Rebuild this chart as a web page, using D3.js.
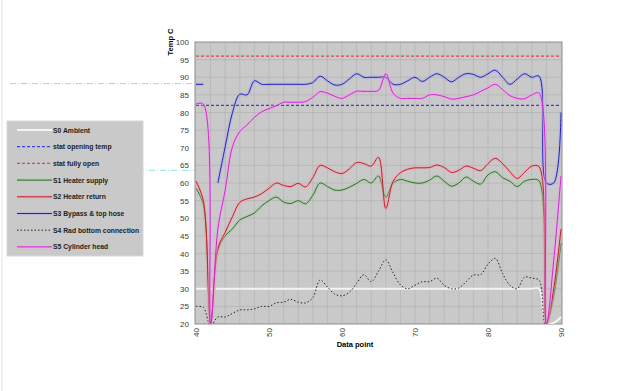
<!DOCTYPE html>
<html>
<head>
<meta charset="utf-8">
<script src="https://cdn.jsdelivr.net/npm/d3@7"></script>
<style>
  body { margin: 0; background: #fff; }
  text { font-family: "Liberation Sans", Arial, sans-serif; }
</style>
</head>
<body>
<div class="content"></div>
<script>
const [svgWidth, svgHeight] = [638, 391];

// data point index (category axis)
const dataPoint = [40, 41, 42, 43, 44, 45, 46, 47, 48, 49, 50, 51, 52, 53, 54, 55, 56, 57, 58, 59,
  60, 61, 62, 63, 64, 65, 66, 67, 68, 69, 70, 71, 72, 73, 74, 75, 76, 77, 78, 79,
  80, 81, 82, 83, 84, 85, 86, 87, 88, 89, 90];

const s0Ambient = [30, 30, 30, 30, 30, 30, 30, 30, 30, 30, 30, 30, 30, 30, 30, 30, 30, 30, 30, 30,
  30, 30, 30, 30, 30, 30, 30, 30, 30, 30, 30, 30, 30, 30, 30, 30, 30, 30, 30, 30,
  30, 30, 30, 30, 30, 30, 30, 30, 20, 20.3, 22];
const statOpening = 82;
const statFullyOpen = 96;
const s1HeaterSupply = [58.5, 54, 20, 41, 45, 47, 49.5, 50.5, 51.5, 53.5, 55, 56, 54.6, 54.2, 55, 54.1, 56.5, 60, 59, 58,
  58, 58.8, 59.9, 61, 60, 62, 56, 60, 61, 60.5, 60, 60, 60.8, 62, 60.5, 59.1, 60, 61.7, 60.5, 59.7,
  62.3, 63.2, 61.5, 60.5, 59, 60.5, 61, 60.6, 20, 28, 43];
const s2HeaterReturn = [60.5, 55, 20, 41.5, 46, 50.5, 54.5, 55.5, 56, 57, 58.5, 60, 59.3, 59, 59.9, 58.9, 61.5, 65, 64.3, 63.2,
  62.7, 64, 65.8, 65.5, 64.8, 67.3, 52.8, 60.5, 62.9, 63.9, 64.3, 64.3, 64.4, 65.1, 64.4, 63, 63.6, 64.8, 64.2, 63.5,
  65.5, 67, 65.5, 63.2, 61.3, 63, 64.8, 64.6, 20, 30, 47];
const s3Bypass = [88, 88, null, 60, 70.3, 80, 85.2, 85, 89, 88, 88, 88, 88, 88, 88, 88, 88.5, 90.3, 89, 87.8,
  88, 89.5, 91, 90, 90, 90, 90, 88, 88, 89, 90, 88.8, 90, 91, 90, 88.7, 90, 91, 90.8, 90,
  91, 92, 90, 88, 89.5, 91, 90, 90.3, 60, 60, 80];
const s4RadBottom = [25, 24.7, 19.5, 22, 22, 23, 24, 24, 24.3, 25, 25, 26, 26.2, 27, 26.2, 26, 27.5, 32.5, 30.5, 28.5,
  28, 29, 31.5, 34, 32, 35, 38.2, 34.5, 31.1, 30, 31, 32, 32, 33, 31, 30, 30.2, 32, 33.9, 34,
  37, 38.6, 34.3, 31, 30, 33.3, 33, 32.4, 19, 19, 19];
const s5CylHead = [82.4, 82.4, 20, 47, 58, 70.3, 74.6, 76.5, 78.6, 80.2, 81.1, 81.9, 82.9, 82.9, 82.9, 83.1, 84.3, 85.9, 85.5, 84.6,
  84, 85, 86, 86, 86, 86.3, 91, 85.5, 84, 84, 84, 84, 85, 85, 84.5, 83.8, 84, 84.5, 85, 86,
  87, 88, 86.5, 84.8, 84, 83.9, 85, 85.5, 20, 38, 62];

const yTicks = [20, 25, 30, 35, 40, 45, 50, 55, 60, 65, 70, 75, 80, 85, 90, 95, 100];
const xTicks = [40, 50, 60, 70, 80, 90];

const series = [
  {name: 'S0 Ambient', values: s0Ambient, color: '#f4f4f4', halo: null, width: 2, dash: null},
  {name: 'stat opening temp', values: dataPoint.map(() => statOpening), color: '#3c3ce8', halo: null, width: 1.3, dash: '3,2', noCurve: true},
  {name: 'stat fully open', values: dataPoint.map(() => statFullyOpen), color: '#dd4848', halo: null, width: 1.1, dash: '3,2', noCurve: true},
  {name: 'S1 Heater supply', values: s1HeaterSupply, color: '#2c6e2c', halo: '#a6c9a0', width: 1, dash: null},
  {name: 'S2 Heater return', values: s2HeaterReturn, color: '#c21c2c', halo: '#eea2aa', width: 1, dash: null},
  {name: 'S3 Bypass & top hose', values: s3Bypass, color: '#2222b4', halo: '#a8a8ec', width: 1, dash: null},
  {name: 'S4 Rad bottom connection', values: s4RadBottom, color: '#262626', halo: null, width: 1, dash: '1.5,2'},
  {name: 'S5 Cylinder head', values: s5CylHead, color: '#d622d2', halo: '#efa6ea', width: 1, dash: null}
];

const svg = d3.select('.content')
  .append('svg')
  .attr('width', svgWidth)
  .attr('height', svgHeight);

const x = d3.scaleLinear().domain([40, 90]).range([196, 561]);
const y = d3.scaleLinear().domain([20, 100]).range([324, 42]);

// faint page edge
svg.append('line')
  .attr('x1', 2).attr('x2', 2).attr('y1', 0).attr('y2', svgHeight)
  .attr('stroke', '#e2e2e2');

// plot area
svg.append('rect')
  .attr('x', x(40) - 1).attr('y', y(100))
  .attr('width', x(90) - x(40) + 2).attr('height', y(20) - y(100))
  .attr('fill', '#c9c9c9');

const grid = svg.append('g');
grid.selectAll('line.v')
  .data(d3.range(42, 90, 2))
  .enter().append('line')
  .attr('x1', d => x(d)).attr('x2', d => x(d))
  .attr('y1', y(100)).attr('y2', y(20))
  .attr('stroke', '#afafaf').attr('stroke-width', 0.6);
grid.selectAll('line.h')
  .data(yTicks.slice(1, -1))
  .enter().append('line')
  .attr('x1', x(40) - 1).attr('x2', x(90) + 1)
  .attr('y1', d => y(d)).attr('y2', d => y(d))
  .attr('stroke', '#afafaf').attr('stroke-width', 0.6);

svg.append('rect')
  .attr('x', x(40) - 1).attr('y', y(100))
  .attr('width', x(90) - x(40) + 2).attr('height', y(20) - y(100))
  .attr('fill', 'none').attr('stroke', '#8c8c8c').attr('stroke-width', 1);

// y axis labels
svg.append('g').selectAll('text')
  .data(yTicks)
  .enter().append('text')
  .attr('x', x(40) - 7)
  .attr('y', d => y(d) + 3)
  .attr('text-anchor', 'end')
  .attr('font-size', 8)
  .attr('fill', '#3a3a3a')
  .text(d => d);

// x axis labels (rotated)
svg.append('g').selectAll('text')
  .data(xTicks)
  .enter().append('text')
  .attr('transform', d => `translate(${x(d) + 3},${y(20) + 4}) rotate(-90)`)
  .attr('text-anchor', 'end')
  .attr('font-size', 8)
  .attr('fill', '#3a3a3a')
  .text(d => d);

svg.append('text')
  .attr('transform', `translate(${x(40) - 23},${y(100)}) rotate(-90)`)
  .attr('text-anchor', 'middle')
  .attr('font-size', 7.5)
  .attr('font-weight', 'bold')
  .text('Temp C');

svg.append('text')
  .attr('x', 355).attr('y', 347)
  .attr('text-anchor', 'middle')
  .attr('font-size', 7.5)
  .attr('font-weight', 'bold')
  .text('Data point');

// clip for series
svg.append('clipPath').attr('id', 'plotclip')
  .append('rect')
  .attr('x', x(40) - 3).attr('y', y(100))
  .attr('width', x(90) - x(40) + 7).attr('height', y(20) - y(100));

const lineSmooth = d3.line()
  .defined(d => d[1] !== null)
  .x(d => x(d[0]))
  .y(d => y(d[1]))
  .curve(d3.curveCatmullRom.alpha(0.5));
const lineStraight = d3.line()
  .x(d => x(d[0]))
  .y(d => y(d[1]));

const plot = svg.append('g').attr('clip-path', 'url(#plotclip)');
series.forEach(s => {
  const pts = dataPoint.map((d, i) => [d, s.values[i]]);
  const gen = s.noCurve ? lineStraight : lineSmooth;
  if (s.halo) {
    plot.append('path')
      .attr('d', gen(pts))
      .attr('fill', 'none')
      .attr('stroke', s.halo)
      .attr('stroke-width', 3.5)
      .attr('stroke-opacity', 0.45);
  }
  plot.append('path')
    .attr('d', gen(pts))
    .attr('fill', 'none')
    .attr('stroke', s.color)
    .attr('stroke-width', s.width)
    .attr('stroke-dasharray', s.dash);
});

// stray cyan dash-dot guide lines
[88.2, 63.6].forEach((v, i) => {
  svg.append('line')
    .attr('x1', i === 0 ? 10 : 28).attr('x2', x(40) - 1)
    .attr('y1', y(v)).attr('y2', y(v))
    .attr('stroke', '#8fe0e0')
    .attr('stroke-width', 1)
    .attr('stroke-dasharray', '6,2,1,2');
});

// legend
const legend = svg.append('g').attr('transform', 'translate(7,121)');
legend.append('rect')
  .attr('width', 136).attr('height', 135)
  .attr('fill', '#c9c9c9')
  .attr('stroke', '#d8d8d8');
const item = legend.selectAll('g.item')
  .data(series)
  .enter().append('g')
  .attr('transform', (d, i) => `translate(0,${9 + i * 16.7})`);
item.filter(d => d.halo).append('line')
  .attr('x1', 10).attr('x2', 45)
  .attr('stroke', d => d.halo).attr('stroke-width', 3.5).attr('stroke-opacity', 0.45);
item.append('line')
  .attr('x1', 10).attr('x2', 45)
  .attr('stroke', d => d.color)
  .attr('stroke-width', d => d.width)
  .attr('stroke-dasharray', d => d.dash);
item.append('text')
  .attr('x', 46).attr('y', 2.5)
  .attr('font-size', 6.8)
  .attr('font-weight', 'bold')
  .attr('fill', '#222')
  .text(d => d.name);
</script>
</body>
</html>
